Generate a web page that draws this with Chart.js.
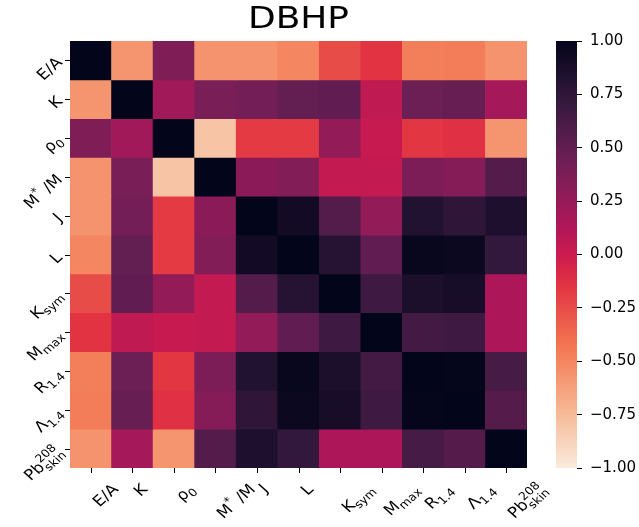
<!DOCTYPE html>
<html lang="en">
<head>
<meta charset="utf-8">
<title>DBHP</title>
<script src="https://cdn.jsdelivr.net/npm/chart.js@4.4.1/dist/chart.umd.min.js"></script>
<style>
  body { margin: 0; background: #fff; }
  #wrap { position: relative; width: 639px; height: 527px; }
  #wrap canvas { position: absolute; left: 0; top: 0; }
</style>
</head>
<body>
<div id="wrap">
  <canvas id="heat" width="639" height="527"></canvas>
  <canvas id="cbar" width="639" height="527"></canvas>
</div>
<script>
// variable names (category order, rows top to bottom and columns left to right)
const names = ['E/A', 'K', 'ρ0', 'M*/M', 'J', 'L', 'Ksym', 'Mmax', 'R1.4', 'Λ1.4', 'Pb208skin'];

// how each tick label is typeset: [text, kind]  n = normal, b = subscript, p = superscript, bp = sup over sub
const labelParts = [
  [['E/A', 'n']],
  [['K', 'n']],
  [['ρ', 'n'], ['0', 'b']],
  [['M', 'n'], ['*', 'p'], [' /M', 'n']],
  [['J', 'n']],
  [['L', 'n']],
  [['K', 'n'], ['sym', 'b']],
  [['M', 'n'], ['max', 'b']],
  [['R', 'n'], ['1.4', 'b']],
  [['Λ', 'n'], ['1.4', 'b']],
  [['Pb', 'n'], ['208', 'bp', 'skin']]
];

// correlation values, one row per variable
const rowEA   = [1.00, -0.57, 0.36, -0.56, -0.56, -0.50, -0.25, -0.14, -0.47, -0.46, -0.56];
const rowK    = [-0.57, 1.00, 0.20, 0.38, 0.41, 0.49, 0.50, 0.05, 0.45, 0.47, 0.18];
const rowRho  = [0.36, 0.20, 1.00, -0.80, -0.17, -0.17, 0.27, 0.02, -0.16, -0.13, -0.57];
const rowMeff = [-0.56, 0.38, -0.80, 1.00, 0.30, 0.34, 0.04, 0.04, 0.37, 0.33, 0.57];
const rowJ    = [-0.56, 0.41, -0.17, 0.30, 1.00, 0.91, 0.57, 0.27, 0.82, 0.75, 0.85];
const rowL    = [-0.50, 0.49, -0.17, 0.34, 0.91, 1.00, 0.80, 0.50, 0.97, 0.95, 0.73];
const rowKsym = [-0.25, 0.50, 0.27, 0.04, 0.57, 0.80, 1.00, 0.67, 0.86, 0.88, 0.14];
const rowMmax = [-0.14, 0.05, 0.02, 0.04, 0.27, 0.50, 0.67, 1.00, 0.65, 0.67, 0.14];
const rowR    = [-0.47, 0.45, -0.16, 0.37, 0.82, 0.97, 0.86, 0.65, 1.00, 0.99, 0.63];
const rowLam  = [-0.46, 0.47, -0.13, 0.33, 0.75, 0.95, 0.88, 0.67, 0.99, 1.00, 0.56];
const rowPb   = [-0.56, 0.18, -0.57, 0.57, 0.85, 0.73, 0.14, 0.14, 0.63, 0.56, 1.00];

const rows = [rowEA, rowK, rowRho, rowMeff, rowJ, rowL, rowKsym, rowMmax, rowR, rowLam, rowPb];

const cbTicks = [-1, -0.75, -0.5, -0.25, 0, 0.25, 0.5, 0.75, 1];

// seaborn "rocket", used reversed (dark = +1)
const rocket = [
  [0.000, 3, 5, 26],
  [0.143, 53, 25, 62],
  [0.286, 112, 31, 87],
  [0.429, 173, 23, 89],
  [0.500, 203, 27, 79],
  [0.571, 225, 51, 66],
  [0.714, 243, 118, 81],
  [0.857, 246, 180, 143],
  [1.000, 250, 235, 221]
];

function cmap(v) {
  let t = Math.max(0, Math.min(1, (1 - v) / 2));
  for (let i = 1; i < rocket.length; i++) {
    if (t <= rocket[i][0]) {
      const a = rocket[i - 1], b = rocket[i];
      const f = (t - a[0]) / (b[0] - a[0]);
      const c = [1, 2, 3].map(k => Math.round(a[k] + f * (b[k] - a[k])));
      return 'rgb(' + c.join(',') + ')';
    }
  }
  return 'rgb(250,235,221)';
}

const FS = 15;
const SS = 0.74;       // script size
const STRETCH = 1.12;  // the reference text is a bit wider than tall
const FONT = '"DejaVu Sans", sans-serif';

function measureRich(ctx, parts) {
  let w = 0;
  for (const p of parts) {
    if (p[1] === 'bp') {
      ctx.font = (FS * SS) + 'px ' + FONT;
      w += Math.max(ctx.measureText(p[0]).width, ctx.measureText(p[2]).width);
    } else {
      ctx.font = (p[1] === 'n' ? FS : FS * SS) + 'px ' + FONT;
      w += ctx.measureText(p[0]).width;
    }
  }
  return w;
}

function drawRich(ctx, parts, x, y) {
  for (const p of parts) {
    if (p[1] === 'n') {
      ctx.font = FS + 'px ' + FONT;
      ctx.fillText(p[0], x, y);
      x += ctx.measureText(p[0]).width;
    } else if (p[1] === 'b') {
      ctx.font = (FS * SS) + 'px ' + FONT;
      ctx.fillText(p[0], x, y + 0.25 * FS);
      x += ctx.measureText(p[0]).width;
    } else if (p[1] === 'p') {
      ctx.font = (FS * SS) + 'px ' + FONT;
      ctx.fillText(p[0], x, y - 0.42 * FS);
      x += ctx.measureText(p[0]).width;
    } else {
      ctx.font = (FS * SS) + 'px ' + FONT;
      ctx.fillText(p[0], x, y - 0.45 * FS);
      ctx.fillText(p[2], x, y + 0.32 * FS);
      x += Math.max(ctx.measureText(p[0]).width, ctx.measureText(p[2]).width);
    }
  }
}

const heatLabels = {
  id: 'heatLabels',
  afterDraw(chart) {
    const ctx = chart.ctx;
    const area = chart.chartArea;
    const xs = chart.scales.x, ys = chart.scales.y;
    ctx.save();
    ctx.strokeStyle = '#000';
    ctx.fillStyle = '#000';
    ctx.lineWidth = 1;
    ctx.textAlign = 'left';
    ctx.textBaseline = 'alphabetic';
    names.forEach((n, i) => {
      const px = Math.round(xs.getPixelForValue(i)) + 0.5;
      const py = Math.round(ys.getPixelForValue(i + 0.5)) + 0.5;
      // tick marks
      ctx.beginPath();
      ctx.moveTo(px, area.bottom);
      ctx.lineTo(px, area.bottom + 5);
      ctx.moveTo(area.left, py);
      ctx.lineTo(area.left - 5, py);
      ctx.stroke();
      const parts = labelParts[i];
      const w = measureRich(ctx, parts);
      // x label: box starts at the tick, top edge level
      ctx.save();
      ctx.translate(px + 8, area.bottom + 22 + w * Math.SQRT1_2);
      ctx.scale(STRETCH, 1);
      ctx.rotate(-Math.PI / 4);
      drawRich(ctx, parts, 0, 0);
      ctx.restore();
      // y label: right end anchored left of the tick
      ctx.save();
      ctx.translate(area.left - 10, py);
      ctx.scale(STRETCH, 1);
      ctx.rotate(-Math.PI / 4);
      drawRich(ctx, parts, -w, 0.27 * FS);
      ctx.restore();
    });
    ctx.font = '31px ' + FONT;
    ctx.textAlign = 'center';
    ctx.translate((area.left + area.right) / 2, 28);
    ctx.scale(1.16, 1);
    ctx.fillText('DBHP', 0, 0);
    ctx.restore();
  }
};

new Chart(document.getElementById('heat'), {
  type: 'bar',
  data: {
    labels: names,
    datasets: rows.map((r, i) => ({
      label: names[i],
      data: r.map(() => 1),
      backgroundColor: r.map(cmap),
      borderWidth: 0,
      barPercentage: 1,
      categoryPercentage: 1
    }))
  },
  options: {
    responsive: false,
    animation: false,
    devicePixelRatio: 1,
    layout: { padding: { left: 70, right: 112, top: 41, bottom: 59 } },
    plugins: { legend: { display: false }, tooltip: { enabled: false } },
    scales: {
      x: { type: 'category', stacked: true, display: false },
      y: { type: 'linear', stacked: true, min: 0, max: 11, reverse: true, display: false }
    }
  },
  plugins: [heatLabels]
});

function fmt(v) {
  return (v < 0 ? '\u2212' : '') + Math.abs(v).toFixed(2);
}

new Chart(document.getElementById('cbar'), {
  type: 'bar',
  data: {
    labels: [''],
    datasets: [{
      data: [[-1, 1]],
      backgroundColor: (c) => {
        const ca = c.chart.chartArea;
        if (!ca) return '#000';
        const g = c.chart.ctx.createLinearGradient(0, ca.bottom, 0, ca.top);
        for (let i = 0; i <= 64; i++) g.addColorStop(i / 64, cmap(-1 + 2 * i / 64));
        return g;
      },
      borderWidth: 0,
      barPercentage: 1,
      categoryPercentage: 1
    }]
  },
  options: {
    responsive: false,
    animation: false,
    devicePixelRatio: 1,
    layout: { padding: { left: 556, right: 0, top: 41, bottom: 59 } },
    plugins: { legend: { display: false }, tooltip: { enabled: false } },
    scales: {
      x: { display: false },
      y: {
        position: 'right',
        min: -1,
        max: 1,
        afterBuildTicks: axis => { axis.ticks = cbTicks.map(v => ({ value: v })); },
        afterFit: axis => { axis.width = 62; },
        ticks: { callback: v => fmt(v), font: { family: 'DejaVu Sans', size: 15 }, color: '#000', padding: 8 },
        grid: { drawOnChartArea: false, drawTicks: true, tickLength: 5, color: '#000', lineWidth: 1 },
        border: { display: false }
      }
    }
  }
});
</script>
</body>
</html>
